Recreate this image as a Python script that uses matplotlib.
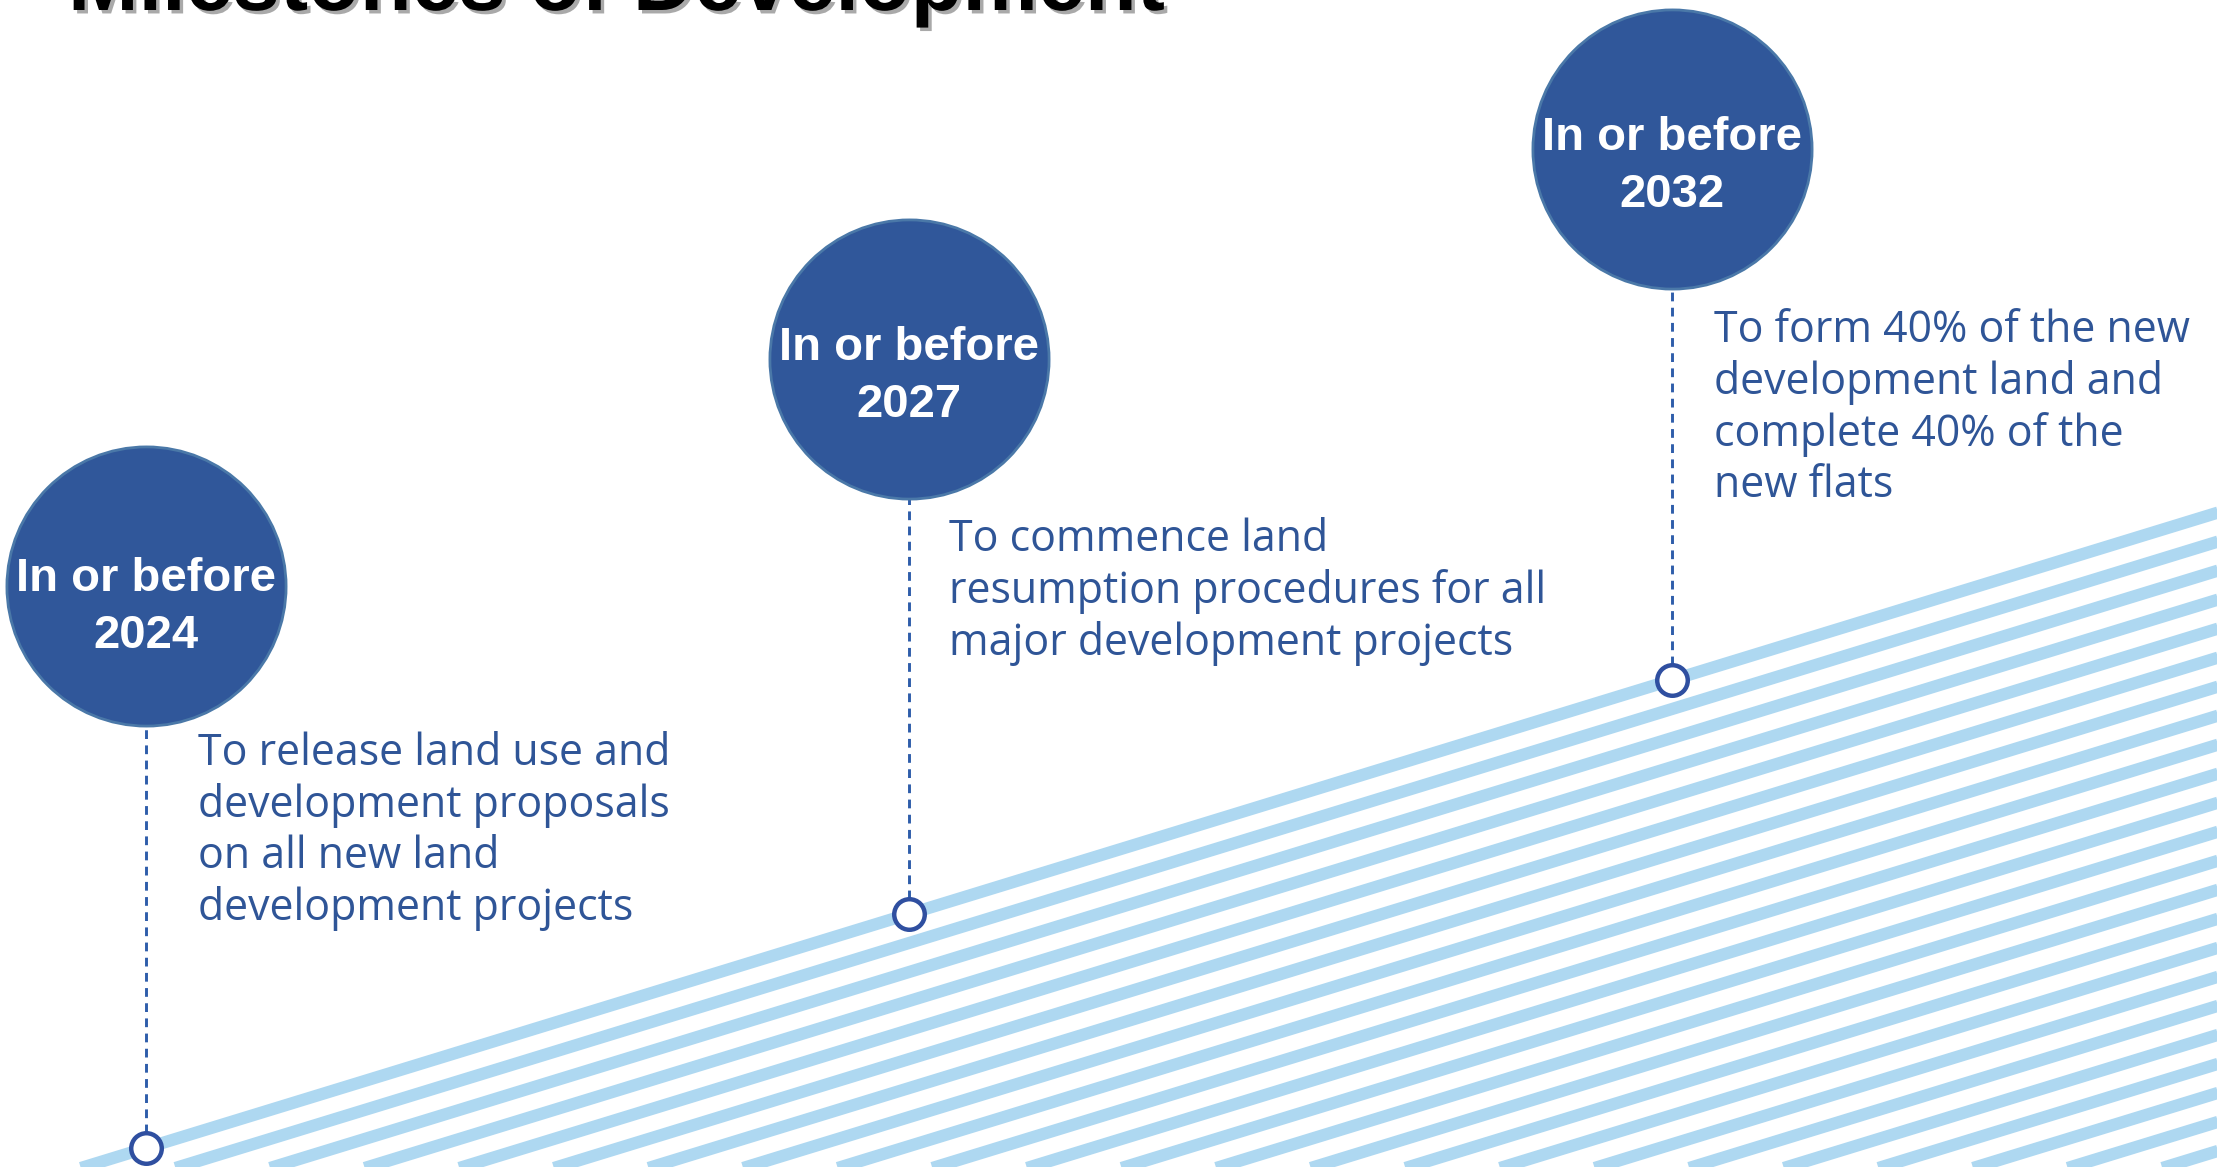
import numpy as np
import matplotlib.pyplot as plt
import matplotlib.patheffects as pe

# 데이터
title = "Milestones of Development"
years = ["2024", "2027", "2032"]
bubble_labels = ["In or before\n" + y for y in years]
descriptions = [
    "To release land use and\ndevelopment proposals\non all new land\ndevelopment projects",
    "To commence land\nresumption procedures for all\nmajor development projects",
    "To form 40% of the new\ndevelopment land and\ncomplete 40% of the\nnew flats",
]
milestone_idx = [0, 1, 2]
progress = [0, 1, 2]

# 레이아웃 (데이터 좌표, 텍스트는 마지막 줄 baseline 기준)
bubble_y = [2.40, 3.37, 4.27]
label_y = [2.137, 3.124, 4.021]
desc_x = [0.068, 1.052, 2.055]
desc_y = [0.974, 2.107, 2.782]

# 색상
bubble_fill = "#30579A"
bubble_edge = "#4A78A8"
text_blue = "#2F5597"
dash_blue = "#2E5DAA"
marker_blue = "#2F4FA0"
stripe_blue = "#AED8F1"

fig = plt.figure(figsize=(22.17, 11.67), dpi=100)
ax = fig.add_axes([0, 0, 1, 1])
ax.set_xlim(-0.1914, 2.7143)
ax.set_ylim(-0.0812, 4.906)
ax.axis("off")

# 줄무늬 띠
xs = np.array([-1.0, 4.0])
for k in range(26):
    ax.plot(xs, xs - k * 0.124, color=stripe_blue, lw=8.8,
            solid_capstyle="butt", zorder=1)

# 점선 연결선
for i, p, by in zip(milestone_idx, progress, bubble_y):
    ax.plot([i, i], [p, by], color=dash_blue, lw=2.1,
            linestyle=(0, (3.0, 2.2)), zorder=2)

# 타임라인 마커
ax.plot(milestone_idx, progress, "o", ms=22, mfc="white", mec=marker_blue,
        mew=3.2, zorder=4)

# 원
ax.scatter(milestone_idx, bubble_y, s=201 ** 2, c=bubble_fill,
           edgecolors=bubble_edge, linewidths=2, zorder=5)

for i, ly, lab in zip(milestone_idx, label_y, bubble_labels):
    ax.text(i, ly, lab, ha="center", va="baseline", multialignment="center",
            fontsize=34, fontweight="bold", family="Liberation Sans",
            color="white", linespacing=1.38, zorder=6)

for dx, dy, txt in zip(desc_x, desc_y, descriptions):
    ax.text(dx, dy, txt, ha="left", va="baseline", fontsize=30.9,
            family="Open Sans", color=text_blue, linespacing=1.2, zorder=6)

fig.text(68 / 2217, 1 - 10 / 1167, title, fontsize=61, fontweight="bold",
         family="Liberation Sans", va="baseline", color="black",
         path_effects=[pe.withSimplePatchShadow(offset=(2.5, -2.5),
                                                shadow_rgbFace="#555555",
                                                alpha=0.5)])

fig.savefig("out.png", dpi=100)
